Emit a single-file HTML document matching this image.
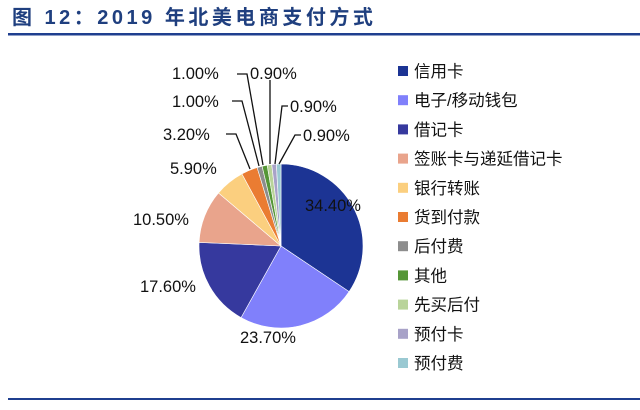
<!DOCTYPE html>
<html><head><meta charset="utf-8"><style>
body{margin:0;width:640px;height:405px;background:#fff;overflow:hidden;font-family:"Liberation Sans","Noto Sans CJK SC",sans-serif}
</style></head><body>
<svg id="s" width="640" height="405" xmlns="http://www.w3.org/2000/svg" font-family="Liberation Sans, Noto Sans CJK SC, sans-serif">
<text x="12" y="24" font-size="20" font-weight="bold" fill="#1f3f7f" font-family="Liberation Sans, Noto Sans CJK SC, sans-serif" letter-spacing="3.5">图 12：2019 年北美电商支付方式</text>
<rect x="8" y="33" width="632" height="2.5" fill="#1f3f8f"/>
<rect x="8" y="398" width="632" height="2" fill="#1f3f8f"/>
<g id="pie"></g>
<g font-size="16.5" fill="#111">
<text x="305" y="211">34.40%</text>
<text x="240" y="343">23.70%</text>
<text x="140" y="292">17.60%</text>
<text x="133" y="225">10.50%</text>
<text x="170" y="174">5.90%</text>
<text x="163" y="140">3.20%</text>
<text x="172" y="107">1.00%</text>
<text x="172" y="79">1.00%</text>
<text x="250" y="79">0.90%</text>
<text x="290" y="112">0.90%</text>
<text x="303" y="141">0.90%</text>
</g>
<g stroke="#111" stroke-width="1.3" fill="none">
<polyline points="237,74 247,74 263,165"/>
<polyline points="232,101 242,101 259,166"/>
<polyline points="226,134 236,134 250,169"/>
<polyline points="270,80 270,164"/>
<polyline points="288,106 282,106 275,164"/>
<polyline points="301,135 295,135 279,164"/>
</g>
<g id="leg" font-size="16.5" fill="#111"></g>
</svg>
<script>
var v=[34.4,23.7,17.6,10.5,5.9,3.2,1.0,1.0,0.9,0.9,0.9];
var c=["#1c3494","#8080fb","#36399e","#e9a48c","#fbcf7f","#ea7c32","#8d8d8d","#559637","#b9d49a","#a8a2c8","#9ac9d2"];
var n=["信用卡","电子/移动钱包","借记卡","签账卡与递延借记卡","银行转账","货到付款","后付费","其他","先买后付","预付卡","预付费"];
var cx=281,cy=246,r=82,a=0,h="";
function P(t){t=t*Math.PI/180;return (cx+r*Math.sin(t)).toFixed(2)+","+(cy-r*Math.cos(t)).toFixed(2);}
for(var i=0;i<v.length;i++){var b=a+v[i]*3.6;h+='<path d="M'+cx+','+cy+' L'+P(a)+' A'+r+','+r+' 0 '+(b-a>180?1:0)+' 1 '+P(b)+' Z" fill="'+c[i]+'" stroke="#fff" stroke-width="0.6"/>';a=b;}
document.getElementById("pie").innerHTML=h;
var l="";
for(var i=0;i<11;i++){var y=71+i*29.2;l+='<rect x="398" y="'+(y-5)+'" width="10" height="10" fill="'+c[i]+'"/><text x="414" y="'+(y+6)+'">'+n[i]+'</text>';}
document.getElementById("leg").innerHTML=l;
</script>
</body></html>
